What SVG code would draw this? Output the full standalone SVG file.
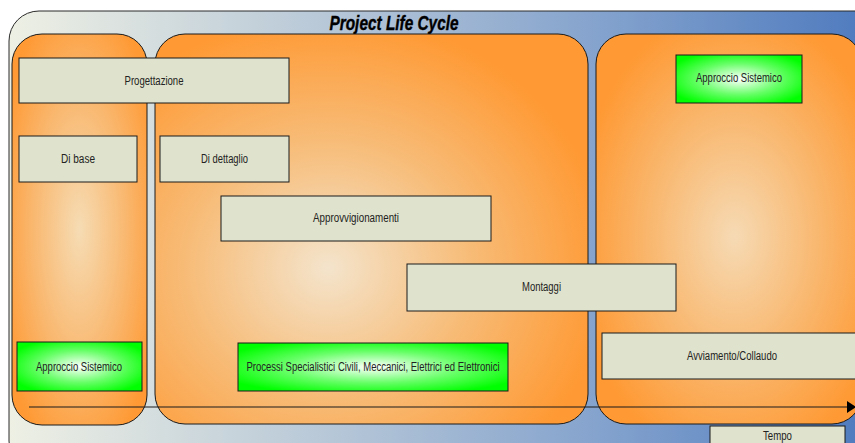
<svg xmlns="http://www.w3.org/2000/svg" width="855" height="443" viewBox="0 0 855 443">
  <defs>
    <linearGradient id="frameFill" x1="0" y1="0" x2="1" y2="0">
      <stop offset="0" stop-color="#eef0e4"/>
      <stop offset="0.35" stop-color="#b9c9d8"/>
      <stop offset="0.7" stop-color="#7f9fcc"/>
      <stop offset="1" stop-color="#4a77bd"/>
    </linearGradient>
    <radialGradient id="phaseA" cx="0.5" cy="0.5" r="0.62">
      <stop offset="0" stop-color="#f6dcb4"/>
      <stop offset="0.55" stop-color="#f9b870"/>
      <stop offset="1" stop-color="#ff9933"/>
    </radialGradient>
    <radialGradient id="phaseB" cx="0.4" cy="0.6" r="0.65">
      <stop offset="0" stop-color="#f4e4cc"/>
      <stop offset="0.5" stop-color="#f7bc78"/>
      <stop offset="1" stop-color="#ff9933"/>
    </radialGradient>
    <radialGradient id="phaseC" cx="0.52" cy="0.52" r="0.6">
      <stop offset="0" stop-color="#f6dab4"/>
      <stop offset="0.55" stop-color="#f9b66c"/>
      <stop offset="1" stop-color="#ff9933"/>
    </radialGradient>
    <radialGradient id="greenFill" cx="0.5" cy="0.5" r="0.6">
      <stop offset="0" stop-color="#ffffff"/>
      <stop offset="0.55" stop-color="#66ff66"/>
      <stop offset="1" stop-color="#00ff00"/>
    </radialGradient>
  </defs>
  <style>
    .frame { fill: url(#frameFill); stroke: #2a2a2a; stroke-width: 1; }
    .phase { stroke: #1a1a1a; stroke-width: 1; }
    .task { fill: #dfe2cc; stroke: #1a1a1a; stroke-width: 1; }
    .green { fill: url(#greenFill); stroke: #1a1a1a; stroke-width: 1; }
    .lbl { font-family: "Liberation Sans", Arial, sans-serif; font-size: 12px; fill: #222; text-anchor: middle; }
    .title { font-family: "Liberation Sans", Arial, sans-serif; font-size: 20px; font-weight: bold; font-style: italic; fill: #000; stroke: #000; stroke-width: 0.4; text-anchor: middle; }
    .axis { stroke: #1a1a1a; stroke-width: 1.2; fill: none; }
  </style>

  <!-- outer frame -->
  <g id="frame">
    <rect class="frame" x="9" y="11" width="880" height="460" rx="30" ry="30"/>
    <text class="title" x="394" y="30" textLength="129" lengthAdjust="spacingAndGlyphs">Project Life Cycle</text>
  </g>

  <!-- phase panels -->
  <g id="phase-1"><rect class="phase" fill="url(#phaseA)" x="12" y="34" width="135" height="391" rx="30" ry="30"/></g>
  <g id="phase-2"><rect class="phase" fill="url(#phaseB)" x="155" y="34" width="433" height="390" rx="30" ry="30"/></g>
  <g id="phase-3"><rect class="phase" fill="url(#phaseC)" x="596" y="34" width="266" height="390" rx="30" ry="30"/></g>

  <!-- time axis -->
  <g id="connectors">
    <line class="axis" x1="29" y1="407" x2="849" y2="407"/>
    <polygon points="847,401 856,407 847,413" fill="#000"/>
  </g>

  <!-- activities -->
  <g id="progettazione">
    <rect class="task" x="19" y="58" width="270" height="45"/>
    <text class="lbl" x="154" y="85" textLength="59" lengthAdjust="spacingAndGlyphs">Progettazione</text>
  </g>
  <g id="di-base">
    <rect class="task" x="19" y="136" width="118" height="46"/>
    <text class="lbl" x="78" y="163" textLength="34" lengthAdjust="spacingAndGlyphs">Di base</text>
  </g>
  <g id="di-dettaglio">
    <rect class="task" x="160" y="136" width="129" height="46"/>
    <text class="lbl" x="224.5" y="163" textLength="47" lengthAdjust="spacingAndGlyphs">Di dettaglio</text>
  </g>
  <g id="approvvigionamenti">
    <rect class="task" x="221" y="196" width="270" height="45"/>
    <text class="lbl" x="356" y="222" textLength="86" lengthAdjust="spacingAndGlyphs">Approvvigionamenti</text>
  </g>
  <g id="montaggi">
    <rect class="task" x="407" y="264" width="269" height="47"/>
    <text class="lbl" x="541.5" y="291" textLength="39" lengthAdjust="spacingAndGlyphs">Montaggi</text>
  </g>
  <g id="avviamento-collaudo">
    <rect class="task" x="602" y="333" width="270" height="46"/>
    <text class="lbl" x="732" y="360" textLength="90" lengthAdjust="spacingAndGlyphs">Avviamento/Collaudo</text>
  </g>
  <g id="tempo">
    <rect class="task" x="710" y="426" width="135" height="30"/>
    <text class="lbl" x="777.5" y="440" textLength="29" lengthAdjust="spacingAndGlyphs">Tempo</text>
  </g>

  <!-- systemic approach / specialist processes -->
  <g id="approccio-sistemico-finale">
    <rect class="green" x="676" y="55" width="126" height="48"/>
    <text class="lbl" x="739" y="82" textLength="86" lengthAdjust="spacingAndGlyphs">Approccio Sistemico</text>
  </g>
  <g id="approccio-sistemico-iniziale">
    <rect class="green" x="17" y="342" width="125" height="49"/>
    <text class="lbl" x="79" y="371" textLength="86" lengthAdjust="spacingAndGlyphs">Approccio Sistemico</text>
  </g>
  <g id="processi-specialistici">
    <rect class="green" x="238" y="343" width="270" height="48"/>
    <text class="lbl" x="373" y="371" textLength="253" lengthAdjust="spacingAndGlyphs">Processi Specialistici Civili, Meccanici, Elettrici ed Elettronici</text>
  </g>
</svg>
